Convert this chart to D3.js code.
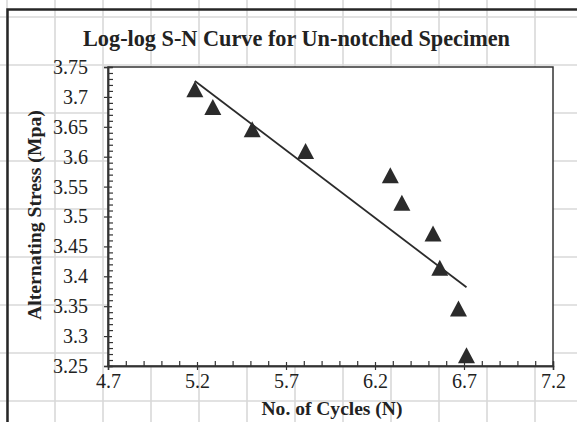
<!DOCTYPE html>
<html>
<head>
<meta charset="utf-8">
<script src="https://cdn.jsdelivr.net/npm/d3@7"></script>
<style>
  html, body { margin: 0; padding: 0; background: #fff; }
  svg { display: block; }
  text { font-family: "Liberation Serif", "Times New Roman", serif; fill: #222; }
</style>
</head>
<body>
<svg id="chart" width="577" height="422"></svg>
<script>
// ---- data ----
const cyclesLog = [5.188, 5.289, 5.510, 5.810, 6.286, 6.351, 6.526, 6.564, 6.669, 6.714];
const stressLog = [3.713, 3.683, 3.646, 3.6095, 3.569, 3.523, 3.4715, 3.4145, 3.346, 3.268];
const trendX = [5.188, 6.714];
const trendY = [3.7265, 3.3816];
const xTickValues = [4.7, 5.2, 5.7, 6.2, 6.7, 7.2];
const xTickLabels = ["4.7", "5.2", "5.7", "6.2", "6.7", "7.2"];
const yTickValues = [3.25, 3.3, 3.35, 3.4, 3.45, 3.5, 3.55, 3.6, 3.65, 3.7, 3.75];
const yTickLabels = ["3.25", "3.3", "3.35", "3.4", "3.45", "3.5", "3.55", "3.6", "3.65", "3.7", "3.75"];
const titleText = "Log-log S-N Curve for Un-notched Specimen";
const xTitle = "No. of Cycles (N)";
const yTitle = "Alternating Stress (Mpa)";

const W = 577, H = 422;
const svg = d3.select("#chart");

// spreadsheet cell grid behind the chart
const bg = svg.append("g");
d3.range(7, W, 48).forEach(x => bg.append("line")
  .attr("x1", x).attr("x2", x).attr("y1", 0).attr("y2", H)
  .attr("stroke", "#d9d9d9").attr("stroke-width", 1.6));
d3.range(17, H, 48).forEach(y => bg.append("line")
  .attr("x1", 0).attr("x2", W).attr("y1", y).attr("y2", y)
  .attr("stroke", "#d9d9d9").attr("stroke-width", 1.6));

// chart border (left & top visible)
svg.append("path")
  .attr("d", `M7.5,${H + 5} L7.5,9.5 L${W + 5},9.5`)
  .attr("fill", "none").attr("stroke", "#262626").attr("stroke-width", 2.5);

// scales
const plot = { left: 108, right: 553, top: 67, bottom: 366 };
const x = d3.scaleLinear().domain([4.7, 7.2]).range([plot.left, plot.right]);
const y = d3.scaleLinear().domain([3.25, 3.75]).range([plot.bottom, plot.top]);

// plot area
svg.append("rect")
  .attr("x", plot.left).attr("y", plot.top)
  .attr("width", plot.right - plot.left).attr("height", plot.bottom - plot.top)
  .attr("fill", "#fff").attr("stroke", "#333").attr("stroke-width", 1.5);

// minor ticks (inside)
const xMinor = d3.range(47, 73).map(v => v / 10).filter(v => !xTickValues.some(t => Math.abs(t - v) < 1e-6));
const yMinor = d3.range(325, 376).map(v => v / 100).filter(v => !yTickValues.some(t => Math.abs(t - v) < 1e-6));

svg.append("g").attr("transform", `translate(0,${plot.bottom})`)
  .call(d3.axisBottom(x).tickValues(xMinor).tickSize(-5).tickFormat(""));
const gxMajor = svg.append("g").attr("transform", `translate(0,${plot.bottom})`)
  .call(d3.axisBottom(x).tickValues(xTickValues).tickSize(4).tickPadding(4)
    .tickFormat((d, i) => xTickLabels[i]));
gxMajor.selectAll(".tick line").attr("y1", -4);

svg.append("g").attr("transform", `translate(${plot.left},0)`)
  .call(d3.axisLeft(y).tickValues(yMinor).tickSize(-5).tickFormat(""));
const gyMajor = svg.append("g").attr("transform", `translate(${plot.left},0)`)
  .call(d3.axisLeft(y).tickValues(yTickValues).tickSize(4).tickPadding(16)
    .tickFormat((d, i) => yTickLabels[i]));
gyMajor.selectAll(".tick line").attr("x1", 4);

svg.selectAll(".domain").attr("stroke", "#333").attr("stroke-width", 1.5);
svg.selectAll(".tick line").attr("stroke", "#333").attr("stroke-width", 1.2);
svg.selectAll(".tick text").attr("font-size", 20).attr("fill", "#222");

// trend line
const line = d3.line().x(d => x(d[0])).y(d => y(d[1]));
svg.append("path")
  .datum(trendX.map((v, i) => [v, trendY[i]]))
  .attr("d", line).attr("fill", "none")
  .attr("stroke", "#2b2b2b").attr("stroke-width", 1.8);

// triangle markers
const triType = {
  draw(ctx, size) {
    const w = 8.5, h = 8;
    ctx.moveTo(0, -h);
    ctx.lineTo(w, h);
    ctx.lineTo(-w, h);
    ctx.closePath();
  }
};
svg.append("g").selectAll("path")
  .data(cyclesLog.map((v, i) => [v, stressLog[i]]))
  .join("path")
  .attr("d", d3.symbol().type(triType).size(1))
  .attr("transform", d => `translate(${x(d[0])},${y(d[1])})`)
  .attr("fill", "#2b2b2b");

// titles (sized to the reference's text widths)
function fitText(sel, width) {
  const w = sel.node().getComputedTextLength();
  const fs = parseFloat(sel.attr("font-size"));
  sel.attr("font-size", (fs * width / w).toFixed(2));
}
const t1 = svg.append("text")
  .attr("x", 296.5).attr("y", 46).attr("text-anchor", "middle")
  .attr("font-weight", "bold").attr("font-size", 22)
  .text(titleText);
fitText(t1, 427);
const t2 = svg.append("text")
  .attr("x", 332).attr("y", 415).attr("text-anchor", "middle")
  .attr("font-weight", "bold").attr("font-size", 18)
  .text(xTitle);
fitText(t2, 141);
const t3 = svg.append("text")
  .attr("transform", "translate(41,215) rotate(-90)")
  .attr("text-anchor", "middle")
  .attr("font-weight", "bold").attr("font-size", 18)
  .text(yTitle);
fitText(t3, 210);
</script>
</body>
</html>
